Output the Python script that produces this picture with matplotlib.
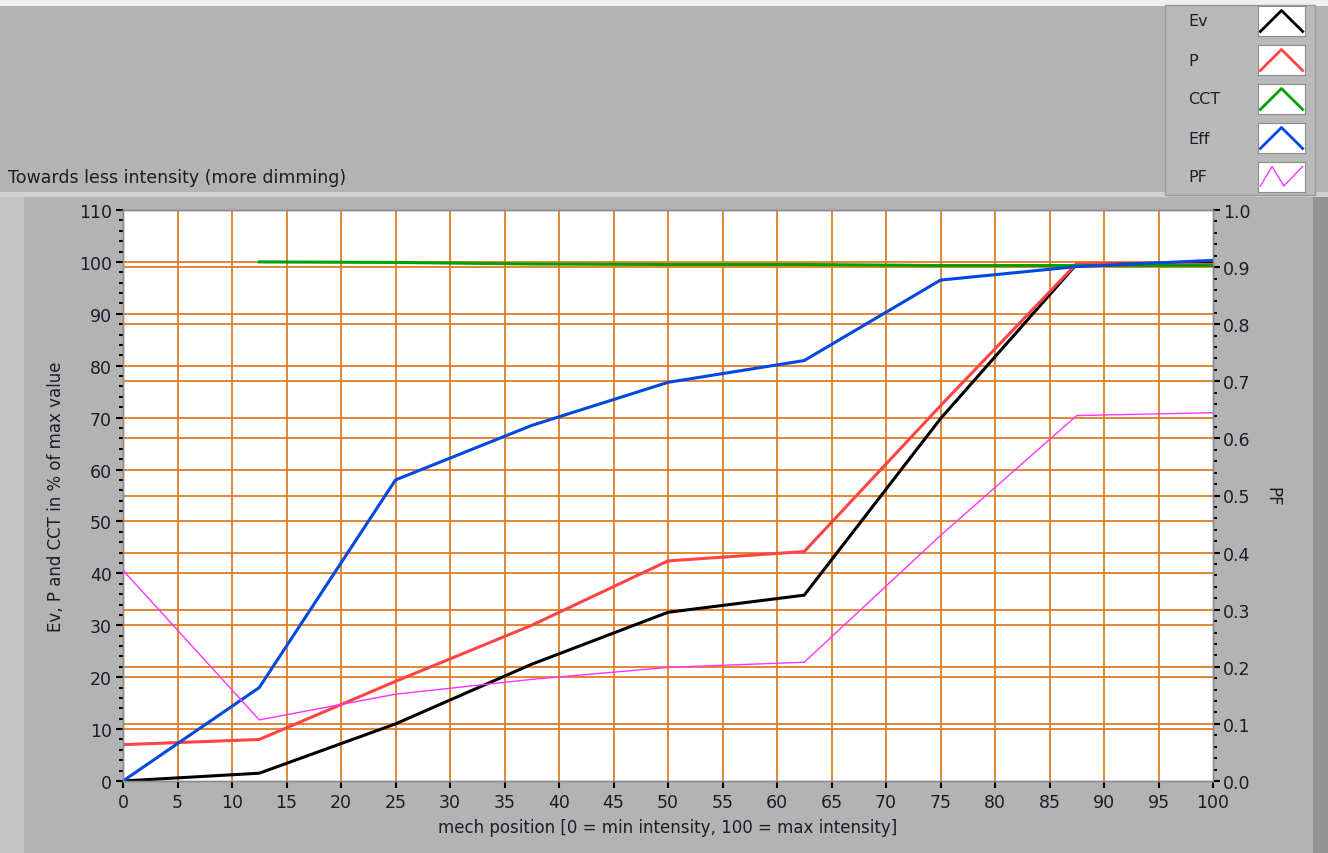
import numpy as np
import matplotlib.pyplot as plt
from matplotlib.patches import Rectangle

# mech position steps
pos = [0, 12.5, 25, 37.5, 50, 62.5, 75, 87.5, 100]

# values in % of max (left axis)
ev = [0, 1.5, 11.0, 22.5, 32.5, 35.8, 69.8, 99.6, 99.8]
p = [7.0, 8.0, 19.2, 30.0, 42.4, 44.2, 72.3, 99.7, 99.5]
cct = [np.nan, 100.0, 99.9, 99.6, 99.5, 99.5, 99.3, 99.3, 99.3]
eff = [0, 18.0, 58.0, 68.5, 76.8, 81.0, 96.5, 99.1, 100.3]

# power factor (right axis)
pf = [0.369, 0.107, 0.152, 0.178, 0.199, 0.208, 0.430, 0.640, 0.645]

names = ["Ev", "P", "CCT", "Eff", "PF"]
colors = ["#000000", "#ff4444", "#00a000", "#0048e0", "#ff33ff"]

bg = "#b3b3b3"
grid_c = "#e07d22"
txt_c = "#1c1c2a"

fig = plt.figure(figsize=(13.28, 8.54), dpi=100)
fig.patch.set_facecolor(bg)

# panel decorations
fig.patches.append(Rectangle((0, 1 - 7 / 854), 1, 7 / 854, transform=fig.transFigure,
                             facecolor="#f0f0f0", edgecolor="none", zorder=0))
fig.patches.append(Rectangle((0, 1 - 198 / 854), 1, 5 / 854, transform=fig.transFigure,
                             facecolor="#d0d0d0", edgecolor="none", zorder=0))
fig.patches.append(Rectangle((0, 0), 24 / 1328, 1 - 198 / 854, transform=fig.transFigure,
                             facecolor="#c4c4c4", edgecolor="none", zorder=0))
fig.patches.append(Rectangle((1313 / 1328, 0), 15 / 1328, 1 - 198 / 854, transform=fig.transFigure,
                             facecolor="#939393", edgecolor="none", zorder=0))

ax = fig.add_axes([123 / 1328, 72 / 854, 1090 / 1328, 571 / 854])
ax.set_facecolor("white")
ax2 = ax.twinx()

ax.set_xlim(0, 100)
ax.set_ylim(0, 110)
ax2.set_ylim(0, 1.0)

xt = np.arange(0, 101, 5)
yt = np.arange(0, 111, 10)
pft = np.round(np.arange(0, 1.01, 0.1), 1)

ax.set_xticks(xt)
ax.set_yticks(yt)
ax.set_yticks(np.arange(0, 111, 2), minor=True)
ax2.set_yticks(pft)
ax2.set_yticks(np.arange(0, 1.001, 0.02), minor=True)
ax2.set_yticklabels([f"{v:.1f}" for v in pft])

# grid: vertical every 5, horizontal at both axes' major ticks
for x in xt[1:-1]:
    ax.axvline(x, color=grid_c, lw=1.3, zorder=1)
for y in yt[1:-1]:
    ax.axhline(y, color=grid_c, lw=1.3, zorder=1)
for v in pft[1:-1]:
    ax.axhline(v * 110, color=grid_c, lw=1.3, zorder=1)

for vals, c in zip([ev, p, cct, eff], colors[:4]):
    ax.plot(pos, vals, color=c, lw=2.2, zorder=3, solid_joinstyle="miter")
ax2.plot(pos, pf, color=colors[4], lw=1.0, zorder=3)

for a in (ax, ax2):
    for s in a.spines.values():
        s.set_color("#8c8c8c")
        s.set_linewidth(1.0)
    a.tick_params(which="major", length=5, width=1.5, color="black",
                  labelsize=12.5, labelcolor=txt_c)
    a.tick_params(which="minor", length=3, width=1.5, color="black")
ax.tick_params(axis="x", pad=4)
ax.tick_params(axis="y", pad=3)
ax2.tick_params(axis="y", pad=2)

ax.set_xlabel("mech position [0 = min intensity, 100 = max intensity]",
              fontsize=12, color=txt_c, labelpad=5)
ax.set_ylabel("Ev, P and CCT in % of max value", fontsize=12, color=txt_c, labelpad=10)
ax2.set_ylabel("PF", fontsize=12, color=txt_c, rotation=270, labelpad=22)

fig.text(8 / 1328, 1 - 178 / 854, "Towards less intensity (more dimming)",
         fontsize=12.5, color=txt_c, ha="left", va="center")

# legend panel
fig.patches.append(Rectangle((1165 / 1328, 1 - 196 / 854), 150 / 1328, 190 / 854,
                             transform=fig.transFigure, facecolor="#b9b9b9",
                             edgecolor="#9a9a9a", lw=1.0, zorder=0))
row_y = [22, 61, 100, 139, 178]
for name, c, ry in zip(names, colors, row_y):
    fig.text(1188 / 1328, 1 - ry / 854, name, fontsize=11.5, color=txt_c,
             ha="left", va="center")
    sw = fig.add_axes([1258 / 1328, 1 - (ry + 15) / 854, 47 / 1328, 30 / 854])
    sw.set_zorder(5)
    sw.set_facecolor("white")
    sw.set_xticks([])
    sw.set_yticks([])
    for s in sw.spines.values():
        s.set_color("#8c8c8c")
    if name == "PF":
        sw.plot([0.05, 0.3, 0.55, 0.95], [0.2, 0.85, 0.2, 0.85], color=c, lw=1.0)
    else:
        sw.plot([0.05, 0.5, 0.95], [0.15, 0.85, 0.15], color=c, lw=2.0)
    sw.set_xlim(0, 1)
    sw.set_ylim(0, 1)

fig.savefig("out.png", dpi=100, facecolor=fig.get_facecolor())
